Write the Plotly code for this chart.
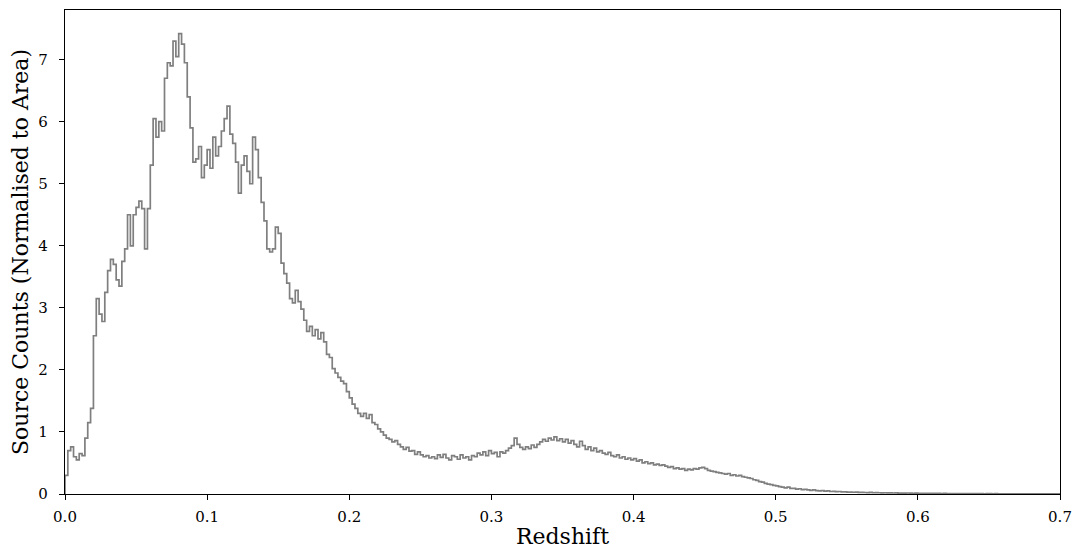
import numpy as np
import plotly.graph_objects as go

# Histogram (step) of redshift, normalised to area; bin width 0.002 from 0 to 0.7
bin_width = 0.002
counts = [
    0.30, 0.70, 0.76, 0.60, 0.55, 0.65, 0.62, 0.90, 1.15, 1.38,   # 0.00-0.02
    2.55, 3.15, 2.90, 2.78, 3.25, 3.60, 3.78, 3.70, 3.45, 3.35,   # 0.02-0.04
    3.75, 3.95, 4.50, 4.00, 4.50, 4.62, 4.72, 4.60, 3.95, 4.60,   # 0.04-0.06
    5.30, 6.05, 5.75, 6.00, 5.85, 6.70, 6.95, 6.90, 7.30, 7.05,   # 0.06-0.08
    7.42, 7.25, 6.95, 6.40, 5.90, 5.35, 5.40, 5.60, 5.10, 5.30,   # 0.08-0.10
    5.55, 5.25, 5.75, 5.45, 5.60, 5.85, 6.05, 6.25, 5.80, 5.65,   # 0.10-0.12
    5.35, 4.85, 5.30, 5.45, 5.20, 5.00, 5.75, 5.55, 5.10, 4.70,   # 0.12-0.14
    4.40, 3.95, 3.90, 3.95, 4.30, 4.20, 3.72, 3.55, 3.40, 3.15,   # 0.14-0.16
    3.08, 3.28, 3.10, 2.98, 2.80, 2.62, 2.70, 2.55, 2.65, 2.50,   # 0.16-0.18
    2.60, 2.45, 2.25, 2.20, 2.02, 1.95, 1.88, 1.82, 1.78, 1.65,   # 0.18-0.20
    1.55, 1.45, 1.38, 1.30, 1.25, 1.30, 1.22, 1.28, 1.15, 1.12,   # 0.20-0.22
    1.05, 1.00, 0.95, 0.90, 0.88, 0.84, 0.86, 0.80, 0.76, 0.72,   # 0.22-0.24
    0.75, 0.69, 0.70, 0.64, 0.68, 0.63, 0.60, 0.62, 0.58, 0.60,   # 0.24-0.26
    0.57, 0.63, 0.59, 0.64, 0.58, 0.55, 0.62, 0.60, 0.56, 0.63,   # 0.26-0.28
    0.58, 0.60, 0.55, 0.62, 0.60, 0.66, 0.63, 0.68, 0.62, 0.70,   # 0.28-0.30
    0.65, 0.67, 0.60, 0.68, 0.66, 0.70, 0.74, 0.78, 0.90, 0.80,   # 0.30-0.32
    0.75, 0.72, 0.76, 0.73, 0.79, 0.75, 0.80, 0.84, 0.88, 0.85,   # 0.32-0.34
    0.90, 0.87, 0.92, 0.86, 0.89, 0.84, 0.88, 0.82, 0.86, 0.80,   # 0.34-0.36
    0.76, 0.85, 0.78, 0.72, 0.76, 0.70, 0.74, 0.68, 0.70, 0.66,   # 0.36-0.38
    0.64, 0.67, 0.62, 0.60, 0.63, 0.58, 0.60, 0.56, 0.58, 0.55,   # 0.38-0.40
    0.57, 0.53, 0.55, 0.50, 0.52, 0.49, 0.50, 0.47, 0.48, 0.46,   # 0.40-0.42
    0.47, 0.45, 0.43, 0.44, 0.41, 0.42, 0.40, 0.41, 0.38, 0.40,   # 0.42-0.44
    0.39, 0.41, 0.40, 0.42, 0.43, 0.41, 0.38, 0.37, 0.36, 0.35,   # 0.44-0.46
    0.34, 0.33, 0.32, 0.33, 0.30, 0.31, 0.29, 0.30, 0.28, 0.27,   # 0.46-0.48
    0.26, 0.25, 0.23, 0.22, 0.20, 0.19, 0.17, 0.16, 0.15, 0.14,   # 0.48-0.50
    0.13, 0.12, 0.11, 0.10, 0.11, 0.09, 0.09, 0.08, 0.085, 0.07,  # 0.50-0.52
    0.075, 0.065, 0.06, 0.065, 0.055, 0.05, 0.055, 0.045, 0.05, 0.04,  # 0.52-0.54
    0.042, 0.038, 0.04, 0.035, 0.033, 0.03, 0.03, 0.028, 0.03, 0.025,  # 0.54-0.56
    0.027, 0.024, 0.022, 0.025, 0.02, 0.022, 0.02, 0.018, 0.02, 0.017, # 0.56-0.58
    0.018, 0.016, 0.017, 0.015, 0.015, 0.014, 0.016, 0.013, 0.012, 0.013,  # 0.58-0.60
    0.011, 0.012, 0.010, 0.011, 0.010, 0.009, 0.010, 0.009, 0.008, 0.009,  # 0.60-0.62
    0.008, 0.007, 0.007, 0.006, 0.007, 0.006, 0.006, 0.005, 0.006, 0.005,  # 0.62-0.64
    0.005, 0.006, 0.005, 0.004, 0.005, 0.005, 0.004, 0.005, 0.004, 0.004,  # 0.64-0.66
    0.004, 0.003, 0.004, 0.004, 0.003, 0.004, 0.003, 0.003, 0.004, 0.003,  # 0.66-0.68
    0.003, 0.003, 0.002, 0.003, 0.003, 0.002, 0.003, 0.002, 0.002, 0.002,  # 0.68-0.70
]

x_ticks = [0.0, 0.1, 0.2, 0.3, 0.4, 0.5, 0.6, 0.7]
x_tick_labels = ["0.0", "0.1", "0.2", "0.3", "0.4", "0.5", "0.6", "0.7"]
y_ticks = [0, 1, 2, 3, 4, 5, 6, 7]

edges = bin_width * np.arange(len(counts) + 1)
xs = [edges[0]] + list(edges[:-1]) + [edges[-1], edges[-1]]
ys = [0] + list(counts) + [counts[-1], 0]

font_family = "DejaVu Serif"

fig = go.Figure()
fig.add_trace(go.Scatter(
    x=xs, y=ys, mode="lines", line_shape="hv",
    line=dict(color="#7f7f7f", width=1.7),
    hoverinfo="skip", showlegend=False,
))

axis_common = dict(
    showline=True, linecolor="black", linewidth=1.2, mirror=True,
    ticks="outside", ticklen=5, tickwidth=1.2, tickcolor="black",
    showgrid=False, zeroline=False, automargin=False,
    tickfont=dict(family=font_family, size=15, color="black"),
)

fig.update_layout(
    width=1077, height=553,
    margin=dict(l=65, r=17, t=10, b=59),
    paper_bgcolor="white", plot_bgcolor="white",
    font=dict(family=font_family, color="black"),
    xaxis=dict(range=[0, 0.7], tickvals=x_ticks, ticktext=x_tick_labels,
               ticklabelstandoff=4,
               title=dict(text="Redshift", font=dict(family=font_family, size=22), standoff=3),
               **axis_common),
    yaxis=dict(range=[0, 7.8], tickvals=y_ticks, ticklabelstandoff=8,
               title=dict(text="Source Counts (Normalised to Area)", font=dict(family=font_family, size=22), standoff=3),
               **axis_common),
)

fig.write_html("out.html")
